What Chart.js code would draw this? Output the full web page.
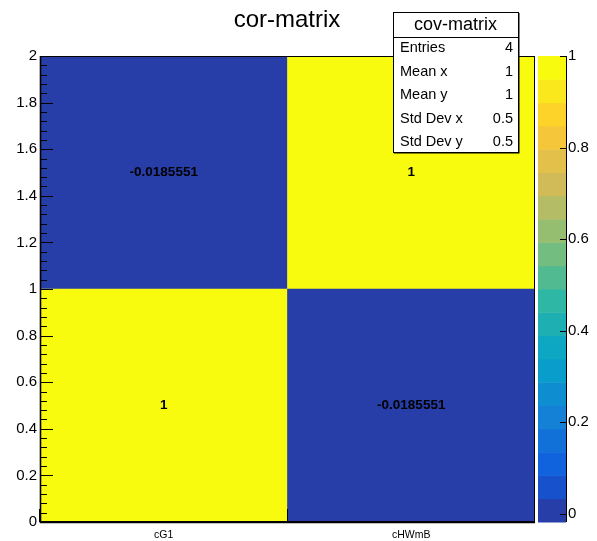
<!DOCTYPE html>
<html>
<head>
<meta charset="utf-8">
<script src="https://cdn.jsdelivr.net/npm/chart.js@4.4.1/dist/chart.umd.min.js"></script>
<style>
    body { margin: 0; background: #fff; }
    #caixa { position: relative; width: 597px; height: 541px; }
</style>
</head>
<body>
<div id="caixa"><canvas id="matriz"></canvas></div>
<script>
// parametros e correlacoes (linhas = bins em y, de baixo para cima)
const xLabels = ['cG1', 'cHWmB'];
const yEdges = [0, 1, 2];
const corRow0 = [1, -0.0185551];
const corRow1 = [-0.0185551, 1];
const yTicks = [0, 0.2, 0.4, 0.6, 0.8, 1, 1.2, 1.4, 1.6, 1.8, 2];
const zTicks = [0, 0.2, 0.4, 0.6, 0.8, 1];
const statNames = ['Entries', 'Mean x', 'Mean y', 'Std Dev x', 'Std Dev y'];
const statValues = ['4', '1', '1', '0.5', '0.5'];
const titulo = 'cor-matrix';
const tituloStats = 'cov-matrix';

const filas = [corRow0, corRow1];
const zMin = Math.min(...corRow0, ...corRow1);
const zMax = Math.max(...corRow0, ...corRow1);
const nNiveis = 20;

// paleta "bird"
const birdStops = [0.0, 0.125, 0.25, 0.375, 0.5, 0.625, 0.75, 0.875, 1.0];
const birdR = [0.2082, 0.0592, 0.0780, 0.0232, 0.1802, 0.5301, 0.8186, 0.9956, 0.9764];
const birdG = [0.1664, 0.3599, 0.5041, 0.6419, 0.7178, 0.7492, 0.7328, 0.7862, 0.9832];
const birdB = [0.5293, 0.8684, 0.8385, 0.7914, 0.6425, 0.4662, 0.3499, 0.1968, 0.0539];

function birdColor(f) {
    let i = 0;
    while (i < birdStops.length - 2 && f > birdStops[i + 1]) i++;
    const t = (f - birdStops[i]) / (birdStops[i + 1] - birdStops[i]);
    const c = arr => Math.round(255 * (arr[i] + t * (arr[i + 1] - arr[i])));
    return `rgb(${c(birdR)}, ${c(birdG)}, ${c(birdB)})`;
}

function corNivel(k) {
    const idx = Math.floor((k + 0.99) * 255 / nNiveis);
    return birdColor(Math.min(idx / 254, 1));
}

function corValor(v) {
    let k = Math.floor((v - zMin) / (zMax - zMin) * nNiveis);
    k = Math.max(0, Math.min(nNiveis - 1, k));
    return corNivel(k);
}

const fonte = '"Liberation Sans", Arial, sans-serif';

// eixos verticais sem folga extra em cima/embaixo
function ajustaVertical(largura) {
    return s => {
        s.width = largura;
        s.paddingTop = 0;
        s.paddingBottom = 0;
    };
}

const decoracao = {
    id: 'decoracao',
    afterDatasetsDraw(chart) {
        const ctx = chart.ctx;
        const { left, right, top, bottom } = chart.chartArea;
        const xs = chart.scales.x, ys = chart.scales.y, zs = chart.scales.z;

        // valores nas celulas
        ctx.save();
        ctx.fillStyle = '#000';
        ctx.font = 'bold 13.5px ' + fonte;
        ctx.textAlign = 'center';
        ctx.textBaseline = 'middle';
        chart.data.datasets.forEach((ds, j) => {
            chart.getDatasetMeta(j).data.forEach((bar, i) => {
                ctx.fillText(String(ds.valores[i]), bar.x, (bar.y + bar.base) / 2);
            });
        });

        // moldura
        ctx.strokeStyle = '#000';
        ctx.lineWidth = 1;
        ctx.strokeRect(left + 0.5, top + 0.5, right - left - 1, bottom - top - 1);
        ctx.lineWidth = 1.6;
        ctx.beginPath();
        ctx.moveTo(left + 0.5, top);
        ctx.lineTo(left + 0.5, bottom + 0.5);
        ctx.lineTo(right, bottom + 0.5);
        ctx.stroke();

        // ticks do eixo y (para dentro)
        ctx.lineWidth = 1;
        ctx.beginPath();
        for (let i = 0; i <= 50; i++) {
            const v = i * 0.04;
            const maior = i % 5 === 0;
            const py = Math.round(ys.getPixelForValue(v)) + 0.5;
            ctx.moveTo(left, py);
            ctx.lineTo(left + (maior ? 13 : 7), py);
        }
        // ticks do eixo x nas bordas dos bins
        for (let i = 0; i <= xLabels.length; i++) {
            const px = Math.round(xs.getPixelForValue(i - 0.5)) - 0.5;
            ctx.moveTo(px, bottom);
            ctx.lineTo(px, bottom - 13);
        }
        ctx.stroke();

        // barra de cores
        const x0 = zs.left + 3, x1 = zs.left + 31;
        const passo = (zMax - zMin) / nNiveis;
        for (let k = 0; k < nNiveis; k++) {
            const yb = zs.getPixelForValue(zMin + k * passo);
            const yt = zs.getPixelForValue(zMin + (k + 1) * passo);
            ctx.fillStyle = corNivel(k);
            ctx.fillRect(x0, yt, x1 - x0, yb - yt + 0.5);
        }
        ctx.beginPath();
        ctx.moveTo(x1 + 0.5, zs.top);
        ctx.lineTo(x1 + 0.5, zs.bottom);
        zTicks.forEach(v => {
            const py = Math.round(zs.getPixelForValue(v)) + 0.5;
            ctx.moveTo(x1, py);
            ctx.lineTo(x1 - 6, py);
        });
        ctx.stroke();
        ctx.restore();
    },
    afterDraw(chart) {
        const ctx = chart.ctx;
        ctx.save();
        ctx.fillStyle = '#000';

        // titulo
        ctx.font = '24px ' + fonte;
        ctx.textAlign = 'center';
        ctx.textBaseline = 'alphabetic';
        ctx.fillText(titulo, 287, 27);

        // caixa de estatisticas
        const bx = 393, by = 12, bw = 125, hh = 25, bh = 140;
        ctx.fillStyle = '#000';
        ctx.fillRect(bx + 1, by + 1, bw + 0.5, bh + 0.5);
        ctx.fillStyle = '#fff';
        ctx.fillRect(bx, by, bw, bh);
        ctx.strokeStyle = '#000';
        ctx.lineWidth = 1;
        ctx.strokeRect(bx + 0.5, by + 0.5, bw, bh);
        ctx.beginPath();
        ctx.moveTo(bx, by + hh + 0.5);
        ctx.lineTo(bx + bw, by + hh + 0.5);
        ctx.stroke();

        ctx.fillStyle = '#000';
        ctx.textBaseline = 'middle';
        ctx.font = '18px ' + fonte;
        ctx.fillText(tituloStats, bx + bw / 2, by + 13);
        ctx.font = '14.5px ' + fonte;
        statNames.forEach((nome, i) => {
            const py = 48 + i * 23.5;
            ctx.textAlign = 'left';
            ctx.fillText(nome, bx + 7, py);
            ctx.textAlign = 'right';
            ctx.fillText(statValues[i], bx + bw - 5, py);
        });
        ctx.restore();
    }
};

new Chart(document.getElementById('matriz'), {
    type: 'bar',
    data: {
        labels: xLabels,
        datasets: filas.map((fila, j) => ({
            data: fila.map(() => [yEdges[j], yEdges[j + 1]]),
            valores: fila,
            backgroundColor: fila.map(corValor),
            borderWidth: 0,
            grouped: false,
            barPercentage: 1,
            categoryPercentage: 1
        }))
    },
    options: {
        responsive: true,
        maintainAspectRatio: false,
        animation: false,
        layout: { padding: { top: 56, left: 0, right: 0, bottom: 0 } },
        plugins: {
            legend: { display: false },
            title: { display: false },
            tooltip: { enabled: false }
        },
        scales: {
            x: {
                grid: { display: false, drawTicks: false },
                border: { display: false },
                ticks: { color: '#000', font: { family: fonte, size: 10.5 }, padding: 7, maxRotation: 0 },
                afterFit: s => { s.height = 19; s.paddingLeft = 0; s.paddingRight = 0; }
            },
            y: {
                min: 0,
                max: 2,
                grid: { display: false, drawTicks: false },
                border: { display: false },
                afterBuildTicks: s => { s.ticks = yTicks.map(v => ({ value: v })); },
                ticks: {
                    color: '#000',
                    font: { family: fonte, size: 15 },
                    padding: 3,
                    callback: v => String(+v.toFixed(2))
                },
                afterFit: ajustaVertical(40)
            },
            z: {
                type: 'linear',
                position: 'right',
                min: zMin,
                max: zMax,
                grid: { display: false, drawTicks: false },
                border: { display: false },
                afterBuildTicks: s => { s.ticks = zTicks.map(v => ({ value: v })); },
                ticks: {
                    color: '#000',
                    font: { family: fonte, size: 15 },
                    padding: 33,
                    callback: v => String(+v.toFixed(2))
                },
                afterFit: ajustaVertical(62)
            }
        }
    },
    plugins: [decoracao]
});
</script>
</body>
</html>
